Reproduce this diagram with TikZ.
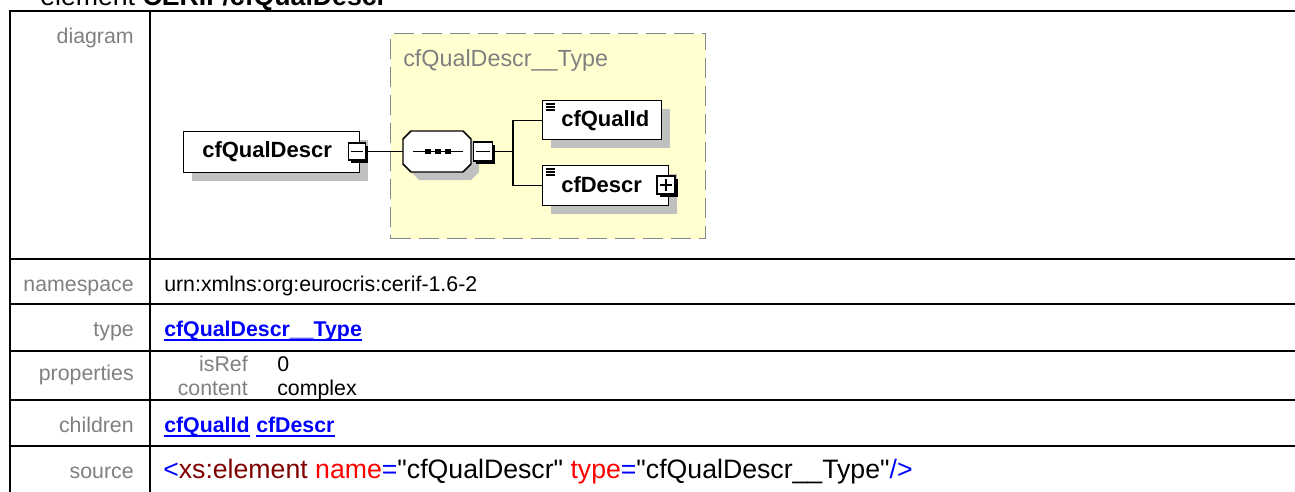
\documentclass[tikz,border=0pt]{standalone}
\usepackage{fontspec}
\setmainfont{Liberation Sans}
\newfontfamily\srcfont{Liberation Sans}
\usetikzlibrary{shadows}
\newdimen\pxu \pxu=0.75pt
\newcommand\fsz[1]{\fontsize{#1}{#1}\selectfont}
\definecolor{lbl}{RGB}{128,128,128}
\definecolor{linkblue}{RGB}{0,0,255}
\definecolor{darkred}{RGB}{128,0,0}
\definecolor{srcred}{RGB}{255,0,0}
\definecolor{typefill}{RGB}{255,255,208}
\definecolor{typeline}{RGB}{136,136,136}
\definecolor{shadowc}{RGB}{192,192,192}
\begin{document}
\begin{tikzpicture}[x=0.75pt,y=-0.75pt,
  tline/.style={line width=1.5pt, line cap=rect},
  rowlabel/.style={anchor=base east, inner sep=0, text=lbl, font=\fsz{16}},
  rowval/.style={anchor=base west, inner sep=0, font=\fsz{16}},
  link/.style={anchor=base west, inner sep=0, text=linkblue, font=\fsz{16}\bfseries},
  ul/.style={draw=linkblue, line width=1.1pt},
  elem/.style={draw=black, line width=1.1pt, fill=white, inner sep=0, anchor=north west,
    general shadow={fill=shadowc, shadow xshift=6pt, shadow yshift=-6pt}},
  elemtext/.style={anchor=base west, inner sep=0, font=\fsz{16.5}\bfseries},
  tog/.style={draw=black, line width=0.9pt, fill=white, inner sep=0, minimum size=17\pxu,
    general shadow={fill=black, shadow xshift=2pt, shadow yshift=-2pt}},
  conn/.style={draw=black, line width=1.1pt},
  icon/.style={draw=black, line width=0.8pt}
]
\useasboundingbox (0,0) rectangle (1295,492);
\fill[white] (0,0) rectangle (1295,492);

% title (cut at the top)
\node[anchor=base west, inner sep=0, font=\fsz{20}] (title) at (40,5.5) {element \textbf{CERIF/cfQualDescr}};

% table lines
\foreach \yy in {11,259,304,351,400,446} \draw[tline] (10,\yy) -- (1300,\yy);
\draw[tline] (10,11) -- (10,500);
\draw[tline] (150,11) -- (150,500);

% row labels
\node[rowlabel] (l1) at (134,44) {diagram};
\node[rowlabel] (l2) at (134,291) {namespace};
\node[rowlabel] (l3) at (134,336) {type};
\node[rowlabel] (l4) at (134,380) {properties};
\node[rowlabel] (l5) at (134,432) {children};
\node[rowlabel] (l6) at (134,478) {source};

% row values
\node[rowval] (ns) at (164,291) {urn:xmlns:org:eurocris:cerif-1.6-2};
\node[link] (tp) at (164,336) {cfQualDescr\_\_Type};
\draw[ul] ([yshift=-3pt]tp.base west) -- ([yshift=-3pt]tp.base east);
\node[rowlabel] (p1) at (248,371) {isRef};
\node[rowval] (v1) at (277,371) {0};
\node[rowlabel] (p2) at (248,395) {content};
\node[rowval] (v2) at (277,395) {complex};
\node[link] (c1) at (164,432) {cfQualId};
\draw[ul] ([yshift=-3pt]c1.base west) -- ([yshift=-3pt]c1.base east);
\node[link] (c2) at (256,432) {cfDescr};
\draw[ul] ([yshift=-3pt]c2.base west) -- ([yshift=-3pt]c2.base east);
\node[anchor=base west, inner sep=0, font=\srcfont\fsz{20}] (src) at (163,478)
  {{\color{linkblue}<}{\color{darkred}xs:element} {\color{srcred}name}{\color{linkblue}=}"cfQualDescr" {\color{srcred}type}{\color{linkblue}=}"cfQualDescr\_\_Type"{\color{linkblue}/>}};

% ---- diagram ----
% type box
\node[draw=typeline, fill=typefill, line width=1.1pt, dash pattern=on 15pt off 6pt,
  inner sep=0, anchor=north west, minimum width=315\pxu, minimum height=205\pxu] (tbox) at (390,33) {};
\node[anchor=base west, inner sep=0, text=lbl, font=\fsz{17.5}] (tlabel) at (403,67) {cfQualDescr\_\_Type};

% root element
\node[elem, minimum width=176\pxu, minimum height=41\pxu] (root) at (183,131) {};
\node[elemtext] (roott) at (202,157) {cfQualDescr};
\node[tog] (m1) at (357,151.5) {};
\draw[line width=0.9pt] ([xshift=2.5pt]m1.west) -- ([xshift=-2.5pt]m1.east);

% sequence compositor
\fill[shadowc] (419,139) -- (471,139) -- (479,147) -- (479,172) -- (471,180) -- (419,180) -- (411,172) -- (411,147) -- cycle;
\draw[line width=1.1pt, fill=white] (411,131) -- (463,131) -- (471,139) -- (471,164) -- (463,172) -- (411,172) -- (403,164) -- (403,139) -- cycle;
\node[inner sep=0, minimum width=68\pxu, minimum height=41\pxu] (seq) at (437,151.5) {};
\draw[line width=1.1pt] (413,151.5) -- (463,151.5);
\foreach \xx in {428,438,448} \fill (\xx-2.8,151.5-2.8) rectangle (\xx+2.8,151.5+2.8);
\node[tog, minimum size=19\pxu] (m2) at (483,151.5) {};
\draw[line width=0.9pt] ([xshift=2.5pt]m2.west) -- ([xshift=-2.5pt]m2.east);

% children
\node[elem, minimum width=119\pxu, minimum height=39\pxu] (qid) at (542,100) {};
\node[elemtext] (qidt) at (561,127) {cfQualId};
\foreach \dy in {4,7,10} \draw[icon] ([xshift=3pt,yshift=-\dy\pxu]qid.north west) -- ++(7pt,0);
\node[elem, minimum width=126\pxu, minimum height=40\pxu] (descr) at (542,165) {};
\node[elemtext] (descrt) at (561,192) {cfDescr};
\foreach \dy in {4,7,10} \draw[icon] ([xshift=3pt,yshift=-\dy\pxu]descr.north west) -- ++(7pt,0);
\node[tog, minimum size=18\pxu] (p) at (666,185) {};
\draw[line width=0.9pt] ([xshift=2.5pt]p.west) -- ([xshift=-2.5pt]p.east);
\draw[line width=0.9pt] ([yshift=-2.5pt]p.north) -- ([yshift=2.5pt]p.south);

% connectors
\coordinate (trunk) at (513,151.5);
\draw[conn] (m1.east) -- (seq.west);
\draw[conn] (m2.east) -- (trunk);
\draw[conn] (trunk) |- (qid.west);
\draw[conn] (trunk) |- (descr.west);
\end{tikzpicture}
\end{document}
